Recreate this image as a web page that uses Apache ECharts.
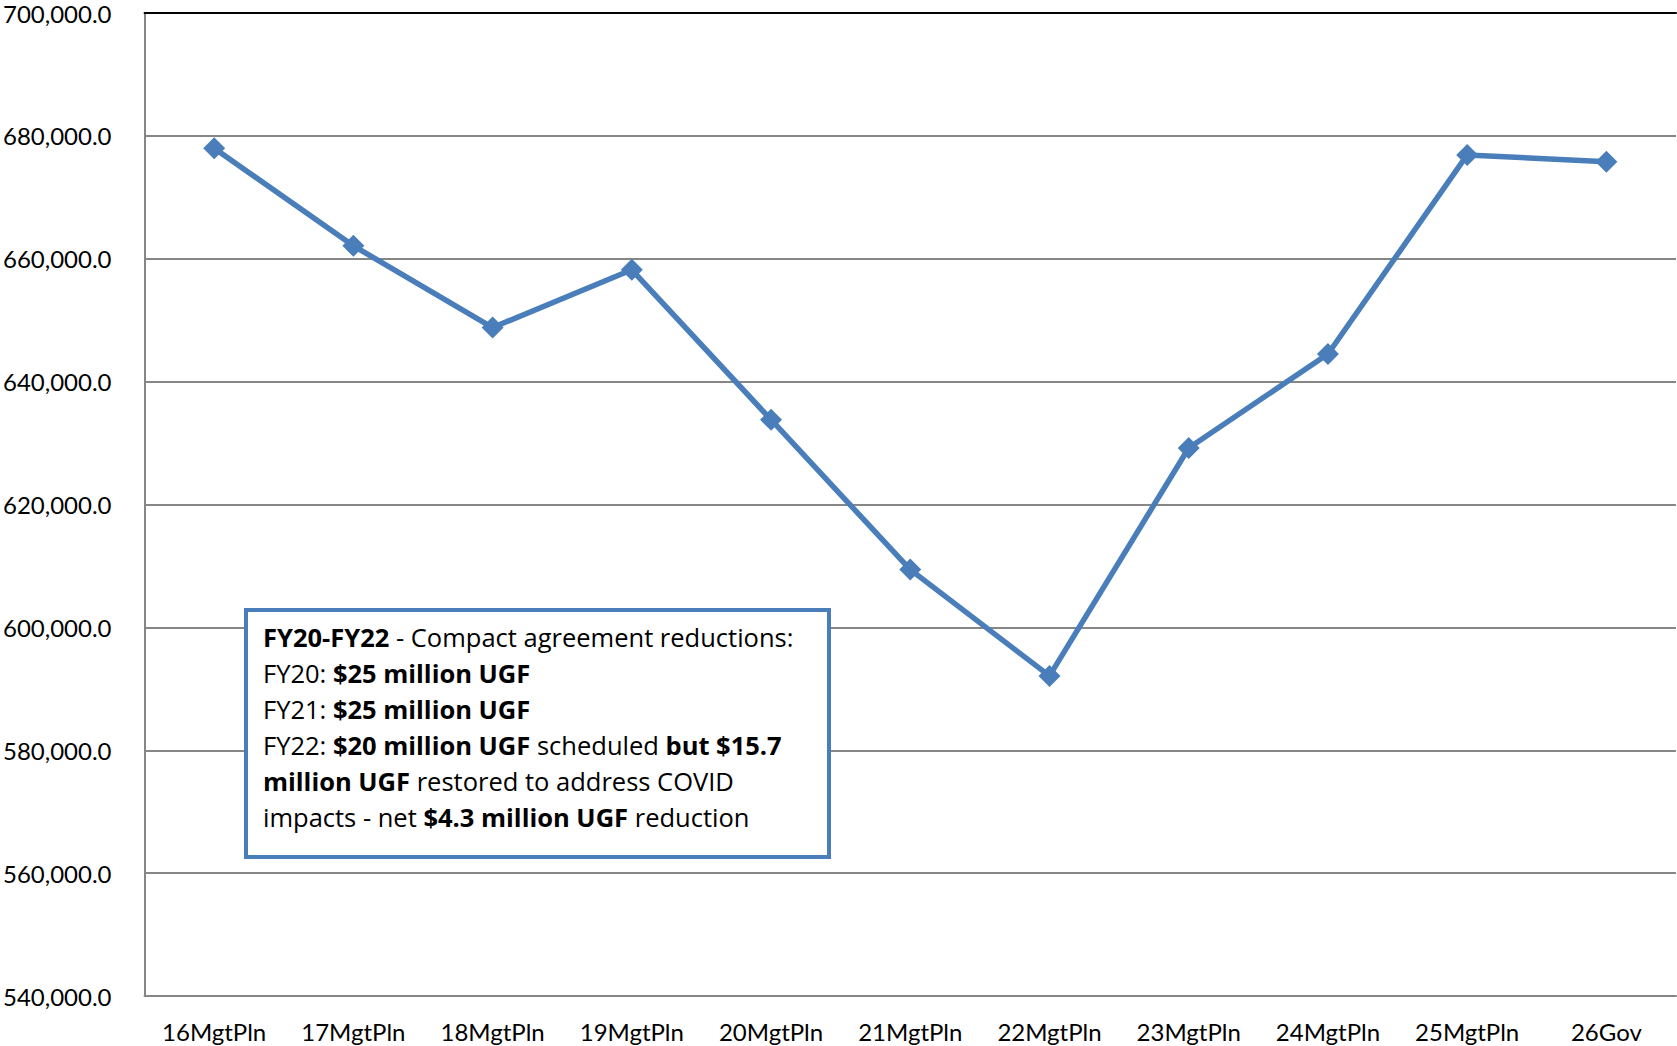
<!DOCTYPE html>
<html>
<head>
<meta charset="utf-8">
<script src="https://cdn.jsdelivr.net/npm/echarts@6/dist/echarts.min.js"></script>
<style>
  html, body { margin: 0; padding: 0; background: #fff; }
  #chart { width: 1677px; height: 1046px; }
</style>
</head>
<body>
<div id="chart"></div>
<script>
// categories + values
const categories = ['16MgtPln', '17MgtPln', '18MgtPln', '19MgtPln', '20MgtPln', '21MgtPln',
  '22MgtPln', '23MgtPln', '24MgtPln', '25MgtPln', '26Gov']
const values = [678000, 662100, 648800, 658200, 633800, 609400, 592100, 629200, 644500, 676900, 675800]

// y axis range
const yMin = 540000
const yMax = 700000
const yStep = 20000

// note box lines (b = bold)
const noteLines = [
  '{b|FY20-FY22} - Compact agreement reductions:',
  'FY20: {b|$25 million UGF}',
  'FY21: {b|$25 million UGF}',
  'FY22: {b|$20 million UGF} scheduled {b|but $15.7}',
  '{b|million UGF} restored to address COVID',
  'impacts - net {b|$4.3 million UGF} reduction'
]

const font = 'Lato'
const noteFont = 'Open Sans'
const blue = '#4a7ebb'
const gray = '#868686'

const chart = echarts.init(document.getElementById('chart'), null, { renderer: 'svg' })

chart.setOption({
  animation: false,
  grid: { left: 144, top: 13, right: 1, bottom: 50 },
  xAxis: [
    {
      type: 'category',
      data: categories,
      boundaryGap: true,
      axisLine: { lineStyle: { color: gray, width: 2 } },
      axisTick: { show: false },
      axisLabel: { color: '#000', fontFamily: font, fontSize: 24, margin: 23 }
    },
    {
      // black line along the top of the plot
      type: 'category',
      position: 'top',
      data: categories,
      axisLine: { lineStyle: { color: '#000', width: 2 } },
      axisTick: { show: false },
      axisLabel: { show: false }
    }
  ],
  yAxis: {
    type: 'value',
    min: yMin,
    max: yMax,
    interval: yStep,
    axisLine: { show: true, lineStyle: { color: gray, width: 2 } },
    axisTick: { show: false },
    splitLine: { lineStyle: { color: gray, width: 2 } },
    axisLabel: {
      color: '#000',
      fontFamily: font,
      fontSize: 24,
      margin: 33,
      formatter: v => v.toLocaleString('en-US', { minimumFractionDigits: 1, maximumFractionDigits: 1 })
    }
  },
  series: [
    {
      type: 'line',
      data: values,
      symbol: 'diamond',
      symbolSize: 22,
      lineStyle: { color: blue, width: 5.5 },
      itemStyle: { color: blue }
    }
  ],
  graphic: [
    {
      type: 'rect',
      left: 244,
      top: 608,
      shape: { width: 583, height: 247 },
      style: { fill: '#fff', stroke: blue, lineWidth: 4 },
      z: 100
    },
    {
      type: 'text',
      left: 263,
      top: 619,
      z: 101,
      style: {
        text: noteLines.join('\n'),
        fill: '#000',
        font: '25.5px "Open Sans"',
        lineHeight: 36,
        rich: {
          b: { fontFamily: noteFont, fontSize: 25.5, fontWeight: 'bold', lineHeight: 36, fill: '#000' }
        }
      }
    }
  ]
})
</script>
</body>
</html>
